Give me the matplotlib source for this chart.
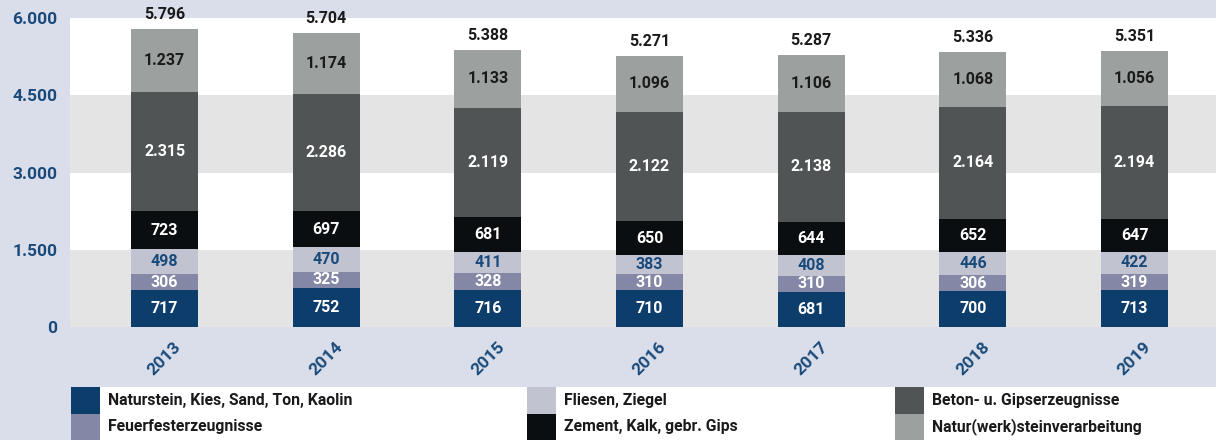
import matplotlib
matplotlib.use("Agg")
import matplotlib.pyplot as plt
from matplotlib.patches import Rectangle
from matplotlib.transforms import ScaledTranslation
import numpy as np

years = ["2013", "2014", "2015", "2016", "2017", "2018", "2019"]
series_names = ["Naturstein, Kies, Sand, Ton, Kaolin", "Feuerfesterzeugnisse",
                "Fliesen, Ziegel", "Zement, Kalk, gebr. Gips",
                "Beton- u. Gipserzeugnisse", "Natur(werk)steinverarbeitung"]
naturstein = [717, 752, 716, 710, 681, 700, 713]
feuerfest = [306, 325, 328, 310, 310, 306, 319]
fliesen = [498, 470, 411, 383, 408, 446, 422]
zement = [723, 697, 681, 650, 644, 652, 647]
beton = [2315, 2286, 2119, 2122, 2138, 2164, 2194]
naturwerk = [1237, 1174, 1133, 1096, 1106, 1068, 1056]
yticks = [0, 1500, 3000, 4500, 6000]

series = [naturstein, feuerfest, fliesen, zement, beton, naturwerk]
colors = ["#0d3d6b", "#8487a5", "#c2c3d1", "#0b0e10", "#505454", "#9ca09f"]
label_colors = ["white", "white", "#1a4a7a", "white", "white", "#1a1a1a"]
BG = "#dadeea"
BLUE = "#1a4a7a"

plt.rcParams['font.family'] = ['Roboto', 'DejaVu Sans']

def de(v):
    return f"{v:,}".replace(",", ".")

W, H = 1216, 440
fig = plt.figure(figsize=(W / 100, H / 100), dpi=100, facecolor=BG)
ax = fig.add_axes([70 / W, (H - 327) / H, (W - 70) / W, (327 - 18) / H])
ax.set_facecolor("white")
for s in ax.spines.values():
    s.set_visible(False)

ax.set_ylim(0, 6000)
ax.set_xlim(-0.585, 6.504)
for lo in (0, 3000):
    ax.axhspan(lo, lo + 1500, color="#e4e4e4", zorder=0, lw=0)

x = np.arange(len(years))
bottom = np.zeros(len(years))
for vals, col, lc in zip(series, colors, label_colors):
    vals = np.array(vals)
    ax.bar(x, vals, 0.414, bottom=bottom, color=col, zorder=2, linewidth=0)
    for xi, b, v in zip(x, bottom, vals):
        ax.text(xi, b + v / 2, de(int(v)), ha="center", va="center",
                color=lc, fontsize=11.5, fontweight="bold", zorder=3)
    bottom = bottom + vals

for xi, t in zip(x, bottom):
    ax.annotate(de(int(t)), (xi, t), xytext=(0, 5), textcoords="offset points",
                ha="center", va="bottom", fontsize=11.5, fontweight="bold",
                color="#1a1a1a", annotation_clip=False)

ax.set_yticks(yticks)
ax.set_yticklabels([de(v) for v in yticks], fontsize=12.5, fontweight="bold", color=BLUE)
ax.set_xticks(x)
ax.set_xticklabels(years, rotation=45, fontsize=12.5, fontweight="bold", color=BLUE,
                   ha="center", va="top")
off = ScaledTranslation(-6 / 100, 0, fig.dpi_scale_trans)
for lab in ax.get_xticklabels():
    lab.set_transform(lab.get_transform() + off)
ax.tick_params(axis="y", length=0, pad=9)
ax.tick_params(axis="x", length=0, pad=9)

# legend
leg_top, leg_bot = 387, 440
fig.patches.append(Rectangle((71 / W, 0), (W - 71) / W, (H - leg_top) / H,
                             transform=fig.transFigure, facecolor="white",
                             edgecolor="none", zorder=0))
col_x = [71, 527, 895]
row_h = (leg_bot - leg_top) / 2
for i, (name, col) in enumerate(zip(series_names, colors)):
    c = i // 2
    r = i % 2
    x0 = col_x[c]
    y_top = leg_top + r * row_h
    fig.patches.append(Rectangle((x0 / W, (H - y_top - row_h) / H), 29 / W, row_h / H,
                                 transform=fig.transFigure, facecolor=col,
                                 edgecolor="none", zorder=1))
    fig.text((x0 + 37) / W, (H - y_top - row_h / 2) / H, name, ha="left", va="center",
             fontsize=11.3, fontweight="bold", color="#1a1a1a")

fig.savefig("out.png", dpi=100, facecolor=BG)
